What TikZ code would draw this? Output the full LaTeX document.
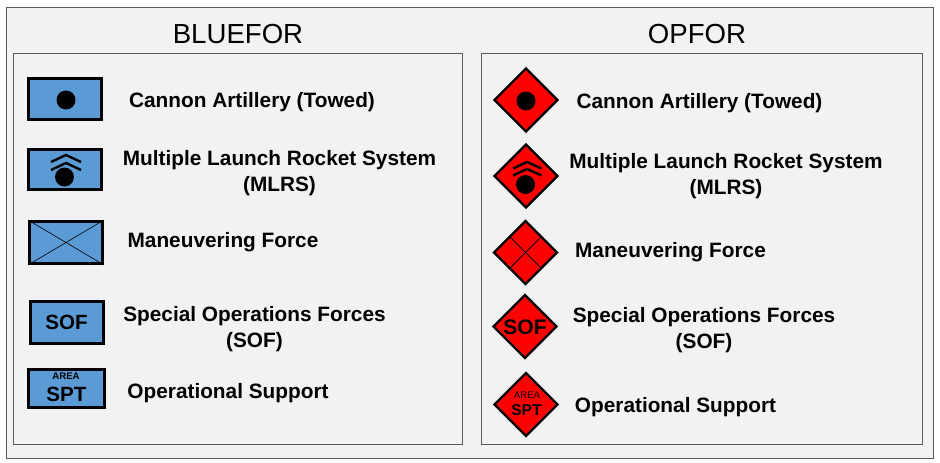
\documentclass[tikz,border=0pt]{standalone}
\usepackage{fontspec}
\setmainfont{Liberation Sans}
\usetikzlibrary{shapes.geometric}
\definecolor{panelgray}{HTML}{F2F2F2}
\definecolor{edgegray}{HTML}{595959}
\definecolor{blueforfill}{HTML}{5B9BD5}
\tikzset{
	panel/.style={draw=edgegray,line width=1pt,fill=panelgray},
	heading/.style={font=\fontsize{27.6}{30}\selectfont},
	unitlabel/.style={align=center,font=\fontsize{20.8}{26}\selectfont\bfseries},
	bluebox/.style={draw=black,line width=3pt,fill=blueforfill,inner sep=0pt},
	reddiamond/.style={diamond,aspect=1,draw=black,line width=2.2pt,fill=red,inner sep=0pt,minimum width=64pt,minimum height=64pt},
	dot/.style={circle,fill=black,inner sep=0pt,minimum size=19pt},
	chevron/.style={line width=2.4pt,line join=miter},
	boxtext/.style={font=\fontsize{20.6}{22}\selectfont\bfseries,inner sep=0pt},
	smalltext/.style={font=\fontsize{9.6}{12}\selectfont,inner sep=0pt}
}
\begin{document}
\begin{tikzpicture}[x=1pt,y=-1pt]
	\useasboundingbox (0,0) rectangle (940,463);
	\draw[panel] (6.5,7.5) rectangle (933,458);
	\draw[panel] (13.5,53.5) rectangle (462,444);
	\draw[panel] (481,53.5) rectangle (922.5,444);
	\node[heading] (bluefor) at (238,33.5) {BLUEFOR};
	\node[heading] (opfor) at (697,33.5) {OPFOR};
	% BLUEFOR symbols
	\node[bluebox,minimum width=73pt,minimum height=41pt] (bluecannon) at (65,99) {};
	\node[dot] (bluecannondot) at (66,100) {};
	\node[bluebox,minimum width=73pt,minimum height=40pt] (bluerocket) at (65,169.5) {};
	\node[dot] (bluerocketdot) at (64.5,177) {};
	\draw[chevron] (51,162) -- (66,155) -- (81,162);
	\draw[chevron] (51,170) -- (66,163) -- (81,170);
	\node[bluebox,minimum width=73pt,minimum height=42pt] (bluemaneuver) at (66,242.5) {};
	\draw[line width=0.6pt] (bluemaneuver.north west) -- (bluemaneuver.south east);
	\draw[line width=0.6pt] (bluemaneuver.north east) -- (bluemaneuver.south west);
	\node[bluebox,minimum width=73pt,minimum height=42pt] (bluesof) at (67,322) {};
	\node[boxtext] (bluesoftext) at (66.5,322) {SOF};
	\node[bluebox,minimum width=76pt,minimum height=38pt] (bluespt) at (66.5,388.5) {};
	\node[smalltext] (blueareatext) at (66,376) {\bfseries AREA};
	\node[boxtext] (bluespttext) at (66.5,394) {SPT};
	% BLUEFOR labels
	\node[unitlabel] (bluecannonlabel) at (252,102) {Cannon Artillery (Towed)};
	\node[unitlabel,anchor=north] (bluerocketlabel) at (279.5,147) {Multiple Launch Rocket System\\(MLRS)};
	\node[unitlabel] (bluemaneuverlabel) at (223,242) {Maneuvering Force};
	\node[unitlabel,anchor=north] (bluesoflabel) at (254.5,303) {Special Operations Forces\\(SOF)};
	\node[unitlabel] (bluesptlabel) at (228,393) {Operational Support};
	% OPFOR symbols
	\node[reddiamond] (redcannon) at (526,100) {};
	\node[dot] (redcannondot) at (526,101) {};
	\node[reddiamond] (redrocket) at (526,176) {};
	\node[dot] (redrocketdot) at (525.5,184.5) {};
	\draw[chevron] (513,168.5) -- (527,162) -- (541.5,168.5);
	\draw[chevron] (513,175.5) -- (527,169) -- (541.5,175.5);
	\node[reddiamond] (redmaneuver) at (525.5,252.5) {};
	\draw[line width=0.9pt] (redmaneuver.north west) -- (redmaneuver.south east);
	\draw[line width=0.9pt] (redmaneuver.north east) -- (redmaneuver.south west);
	\node[reddiamond] (redsof) at (525,326.5) {};
	\node[boxtext,font=\fontsize{21}{22}\selectfont\bfseries] (redsoftext) at (525,327) {SOF};
	\node[reddiamond] (redspt) at (526,404.5) {};
	\node[smalltext] (redareatext) at (527,395) {AREA};
	\node[boxtext,font=\fontsize{15.6}{20}\selectfont\bfseries] (redspttext) at (526.5,410) {SPT};
	% OPFOR labels
	\node[unitlabel] (redcannonlabel) at (699.5,103) {Cannon Artillery (Towed)};
	\node[unitlabel,anchor=north] (redrocketlabel) at (726,150) {Multiple Launch Rocket System\\(MLRS)};
	\node[unitlabel] (redmaneuverlabel) at (670.5,252) {Maneuvering Force};
	\node[unitlabel,anchor=north] (redsoflabel) at (704,304) {Special Operations Forces\\(SOF)};
	\node[unitlabel] (redsptlabel) at (675.5,407) {Operational Support};
\end{tikzpicture}
\end{document}
